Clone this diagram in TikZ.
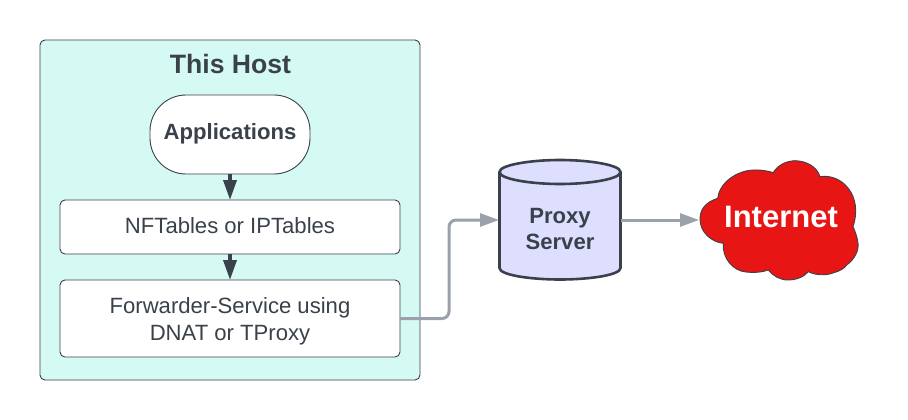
\documentclass[tikz,border=0pt]{standalone}
\usepackage{fontspec}
\setmainfont{Liberation Sans}
\usetikzlibrary{arrows.meta}
\definecolor{ink}{HTML}{3A414A}
\definecolor{hostfill}{HTML}{D5FAF3}
\definecolor{linegray}{HTML}{9AA1AB}
\definecolor{proxyfill}{HTML}{DEDEFF}
\definecolor{cloudred}{HTML}{E81515}
\tikzset{
  box/.style={draw=ink,line width=0.9pt,fill=white,rounded corners=5pt,minimum width=340pt,inner sep=0pt,outer sep=0pt,text=ink,align=center,font=\fontsize{22.1}{27}\selectfont},
  darkarrow/.style={draw=ink,line width=3.5pt,-{Triangle[length=20pt,width=13pt,fill=ink]}},
  grayarrow/.style={draw=linegray,line width=3pt,-{Triangle[length=19pt,width=13pt,fill=linegray]},rounded corners=7pt},
  boldlabel/.style={text=ink,font=\bfseries\fontsize{22.1}{26}\selectfont,align=center}
}
\begin{document}
\begin{tikzpicture}[x=1pt,y=-1pt]
\useasboundingbox (0,0) rectangle (908,420);
\fill[white] (0,0) rectangle (908,420);
\node[draw=ink,line width=0.9pt,fill=hostfill,rounded corners=5pt,minimum width=380pt,minimum height=340pt,outer sep=0pt,inner sep=0pt] (host) at (230,210) {};
\node[text=ink,font=\bfseries\fontsize{26.6}{30}\selectfont] (title) at (230.5,64) {This Host};
\node[draw=ink,line width=0.9pt,fill=white,rounded corners=36pt,minimum width=160pt,minimum height=79pt,inner sep=0pt,outer sep=0pt] (apps) at (230,134.5) {};
\node[boldlabel] (appstext) at (230,134) {Applications};
\node[box,minimum height=54pt] (nft) at (230,227) {\raisebox{3pt}{NFTables or IPTables}};
\node[box,minimum height=77pt] (fwd) at (230,318.5) {};
\node[text=ink,align=center,font=\fontsize{22.1}{27}\selectfont,inner sep=0pt] (fwdtext) at (230,321) {Forwarder-Service using\\DNAT or TProxy};
\node[minimum width=122pt,minimum height=120pt,inner sep=0pt,outer sep=0pt] (proxy) at (560,220) {};
\draw[draw=ink,line width=2.6pt,fill=proxyfill]
  (499.5,172) -- (499.5,268)
  .. controls (499.5,275) and (530,279.5) .. (560,279.5)
  .. controls (590,279.5) and (620.5,275) .. (620.5,268)
  -- (620.5,172)
  .. controls (620.5,165) and (590,160) .. (560,160)
  .. controls (530,160) and (499.5,165) .. (499.5,172) -- cycle;
\draw[draw=ink,line width=2.6pt]
  (499.5,172) .. controls (499.5,179) and (530,184) .. (560,184)
  .. controls (590,184) and (620.5,179) .. (620.5,172);
\node[boldlabel] (proxytext) at (560,229) {Proxy\\Server};
\fill[cloudred,draw=ink,line width=0.9pt]
  (717.7,198.3) .. controls (706,202) and (700,209) .. (700,219)
  .. controls (700,232) and (711,242) .. (723.3,243.3)
  .. controls (722,258) and (733,271) .. (746,272)
  .. controls (755,273) and (763,272) .. (768.3,270)
  .. controls (773,276) and (780,280) .. (788,280)
  .. controls (796,280) and (804,277) .. (808.3,271.7)
  .. controls (815,275) and (825,276) .. (833,273)
  .. controls (840,271) and (845,268) .. (846.7,265)
  .. controls (855,259) and (859,250) .. (858,243)
  .. controls (857,236) and (855,231) .. (853,226.7)
  .. controls (858,212) and (856,198) .. (848,188)
  .. controls (841,179) and (830,175) .. (820,176.7)
  .. controls (817,167) and (807,161) .. (795,160.7)
  .. controls (785,161) and (777,166) .. (773.3,172.7)
  .. controls (765,170) and (755,169) .. (746,171)
  .. controls (730,175) and (719,186) .. (717.7,198.3) -- cycle;
\node[text=white,font=\bfseries\fontsize{31}{34}\selectfont] (internet) at (781,217) {Internet};
\coordinate (cloudW) at (699,220);
\draw[darkarrow] (apps.south) -- (nft.north);
\draw[darkarrow] (nft.south) -- (fwd.north);
\draw[grayarrow] (fwd.east) -- ++(49,0) |- (proxy.west);
\draw[grayarrow] (proxy.east) -- (cloudW);
\end{tikzpicture}
\end{document}
